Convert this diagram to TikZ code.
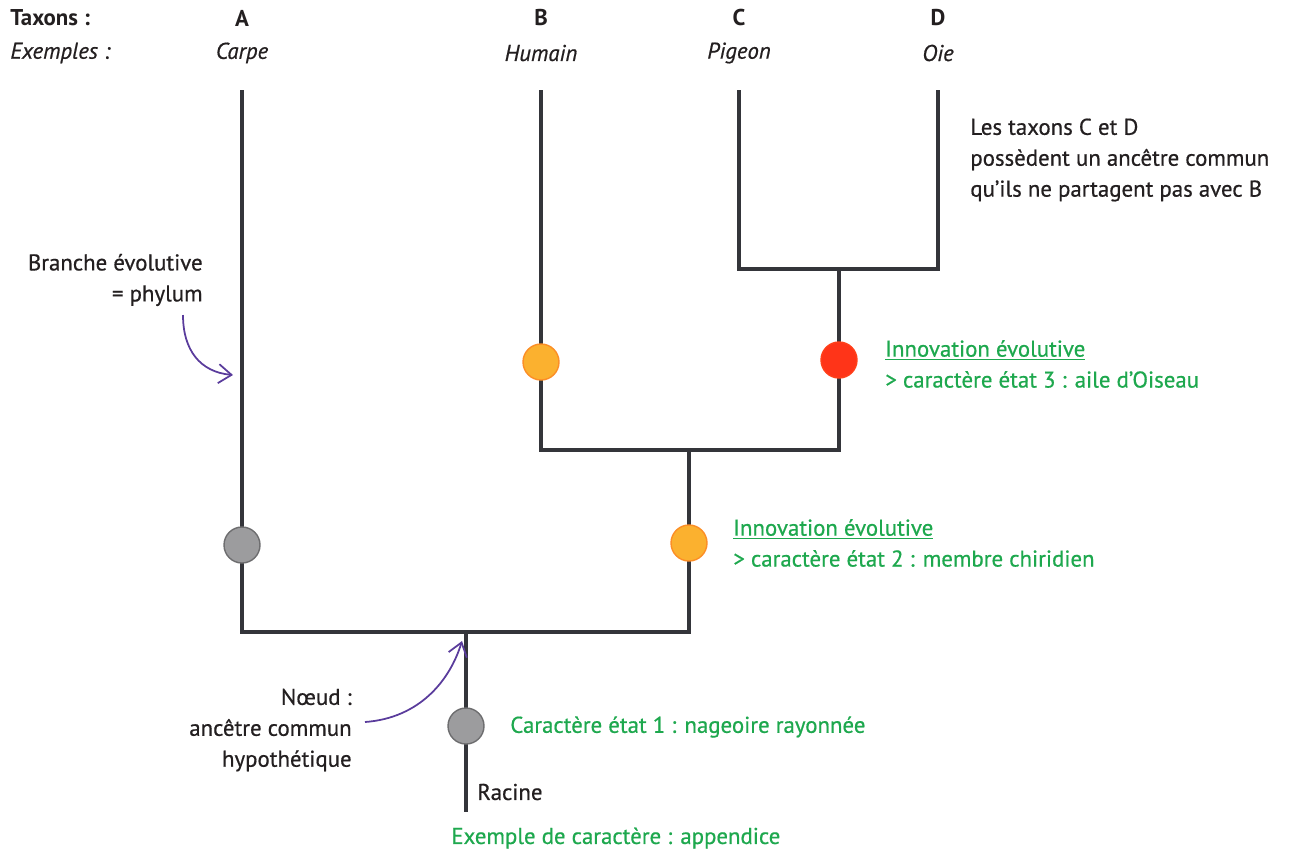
\documentclass[tikz,border=0pt]{standalone}
\usepackage{fontspec}
\setmainfont{PT Sans}[UprightFeatures={FakeBold=0.6}, ItalicFeatures={FakeBold=0.6}]
\usetikzlibrary{arrows.meta}
\definecolor{tronc}{HTML}{34353A}
\definecolor{encre}{HTML}{231F20}
\definecolor{vert}{HTML}{1EA84E}
\definecolor{violet}{HTML}{5A3C9C}
\definecolor{gris}{HTML}{9C9C9E}
\definecolor{orange}{HTML}{FBB12F}
\definecolor{rouge}{HTML}{FF3418}
\tikzset{>={Straight Barb[length=2.6mm,width=3.8mm]}}
\tikzset{
  brin/.style={draw=tronc, line width=2.3pt},
  etat/.style={circle, minimum size=0.72cm, inner sep=0pt, line width=0.8pt},
  texte/.style={text=encre, font=\fontsize{13}{17.6}\selectfont, inner sep=0pt},
  caractere/.style={texte, text=vert},
  fleche/.style={->, draw=violet, line width=1pt},
}

\begin{document}
\begin{tikzpicture}[x=0.02cm, y=-0.02cm]
    \useasboundingbox (0,0) rectangle (1291,853);

    % sommets des branches et noeuds
    \coordinate (tA) at (242,90);
    \coordinate (tB) at (541,90);
    \coordinate (tC) at (739,90);
    \coordinate (tD) at (938,90);
    \coordinate (n1) at (466,632);
    \coordinate (n2) at (689,450);
    \coordinate (n3) at (839,269);
    \coordinate (racine) at (466,812);

    % l'arbre
    \draw[brin] (tA) |- (n2 |- n1) -- (n2);
    \draw[brin] (tB) |- (n3 |- n2) -- (n3);
    \draw[brin] (tC) |- (tD |- n3) -- (tD);
    \draw[brin] (n1) -- (racine);

    % etats de caractere
    \node[etat, fill=gris, draw=gris!70!black] (eA) at (242,545) {};
    \node[etat, fill=orange, draw=orange!80!red] (eB) at (541,362) {};
    \node[etat, fill=rouge, draw=rouge!90!orange] (eCD) at (839,360) {};
    \node[etat, fill=orange, draw=orange!80!red] (eBCD) at (689,543) {};
    \node[etat, fill=gris, draw=gris!70!black] (eR) at (466,726) {};

    % en-tetes
    \node[texte, anchor=west, font=\fontsize{13}{17.6}\selectfont\bfseries] (taxons) at (10,18) {Taxons :};
    \node[texte, anchor=west, font=\fontsize{13}{17.6}\selectfont\itshape] (exemples) at (10,53) {Exemples :};
    \node[texte, font=\fontsize{13}{17.6}\selectfont\bfseries] (lA) at (242,18) {A};
    \node[texte, font=\fontsize{13}{17.6}\selectfont\bfseries] (lB) at (541,18) {B};
    \node[texte, font=\fontsize{13}{17.6}\selectfont\bfseries] (lC) at (739,18) {C};
    \node[texte, font=\fontsize{13}{17.6}\selectfont\bfseries] (lD) at (938,18) {D};
    \node[texte, font=\fontsize{13}{17.6}\selectfont\itshape] (xA) at (242,53) {Carpe};
    \node[texte, font=\fontsize{13}{17.6}\selectfont\itshape] (xB) at (541,53) {Humain};
    \node[texte, font=\fontsize{13}{17.6}\selectfont\itshape] (xC) at (739,53) {Pigeon};
    \node[texte, font=\fontsize{13}{17.6}\selectfont\itshape] (xD) at (938,53) {Oie};

    % legendes
    \node[texte, anchor=west, align=left] (ancetre) at (970,160) {Les taxons C et D\\possèdent un ancêtre commun\\qu’ils ne partagent pas avec B};
    \node[texte, anchor=east, align=right] (phylum) at (203,280) {Branche évolutive\\= phylum};
    \node[texte, anchor=east, align=right] (noeud) at (352,730) {Nœud :\\ancêtre commun\\hypothétique};
    \node[caractere, anchor=west, align=left] (innov3) at (885,364) {\underline{Innovation évolutive}\\> caractère état 3 : aile d’Oiseau};
    \node[caractere, anchor=west, align=left] (innov2) at (733,543) {\underline{Innovation évolutive}\\> caractère état 2 : membre chiridien};
    \node[caractere, anchor=west] (etat1) at (510,727) {Caractère état 1 : nageoire rayonnée};
    \node[texte, anchor=west] (lracine) at (477,792) {Racine};
    \node[caractere, anchor=west] (appendice) at (451,838) {Exemple de caractère : appendice};

    % fleches
    \coordinate (f1) at (183,315);
    \coordinate (f2) at (233,375);
    \coordinate (f3) at (365,722);
    \coordinate (f4) at (462,641);
    \draw[fleche] (f1) .. controls (183,350) and (200,372) .. (f2);
    \draw[fleche] (f3) .. controls (420,718) and (450,680) .. (f4);
\end{tikzpicture}
\end{document}
